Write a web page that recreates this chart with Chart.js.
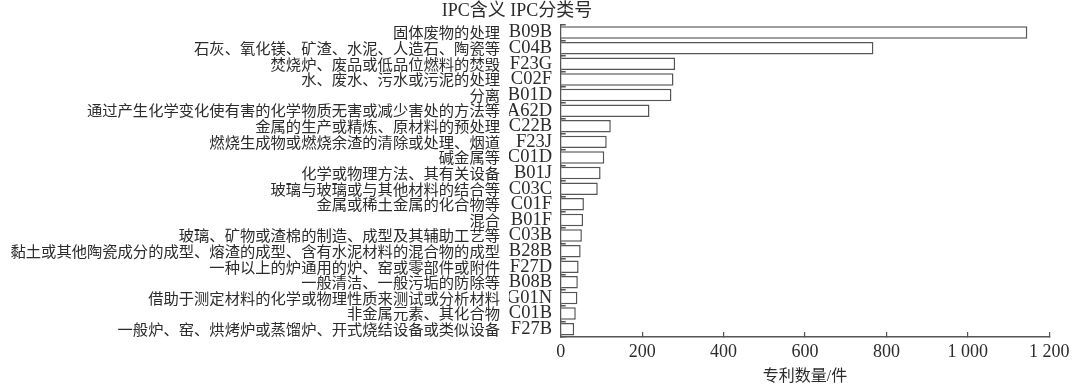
<!DOCTYPE html>
<html>
<head>
<meta charset="utf-8">
<script src="https://cdn.jsdelivr.net/npm/chart.js@4.4.1/dist/chart.umd.min.js"></script>
<style>
  html, body { margin: 0; padding: 0; background: #fff; }
  #wrap { width: 1080px; height: 389px; position: relative; }
</style>
</head>
<body>
<div id="wrap"><canvas id="c"></canvas></div>
<script>
const ipcCodes = ['B09B','C04B','F23G','C02F','B01D','A62D','C22B','F23J','C01D','B01J','C03C','C01F','B01F','C03B','B28B','F27D','B08B','G01N','C01B','F27B'];
const ipcMeanings = [
  '固体废物的处理',
  '石灰、氧化镁、矿渣、水泥、人造石、陶瓷等',
  '焚烧炉、废品或低品位燃料的焚毁',
  '水、废水、污水或污泥的处理',
  '分离',
  '通过产生化学变化使有害的化学物质无害或减少害处的方法等',
  '金属的生产或精炼、原材料的预处理',
  '燃烧生成物或燃烧余渣的清除或处理、烟道',
  '碱金属等',
  '化学或物理方法、其有关设备',
  '玻璃与玻璃或与其他材料的结合等',
  '金属或稀土金属的化合物等',
  '混合',
  '玻璃、矿物或渣棉的制造、成型及其辅助工艺等',
  '黏土或其他陶瓷成分的成型、熔渣的成型、含有水泥材料的混合物的成型',
  '一种以上的炉通用的炉、窑或零部件或附件',
  '一般清洁、一般污垢的防除等',
  '借助于测定材料的化学或物理性质来测试或分析材料',
  '非金属元素、其化合物',
  '一般炉、窑、烘烤炉或蒸馏炉、开式烧结设备或类似设备'
];
const patentCounts = [1146,768,281,277,272,218,123,113,107,98,91,57,55,52,49,44,42,41,37,33];
const xTickValues = [0,200,400,600,800,1000,1200];
const headerText = 'IPC含义 IPC分类号';
const xAxisTitle = '专利数量/件';

const SERIF = "'Liberation Serif', 'Noto Sans CJK SC', serif";
const CJK = "'Noto Sans CJK SC', sans-serif";
const TEXT = '#2b2b2b';
const AXIS = '#555';

const headerPlugin = {
  id: 'header',
  afterDraw(chart) {
    const ctx = chart.ctx;
    ctx.save();
    ctx.font = "18px " + SERIF;
    ctx.fillStyle = TEXT;
    ctx.textAlign = 'right';
    ctx.textBaseline = 'middle';
    ctx.fillText(headerText, chart.chartArea.left + 31.5, 11);
    ctx.restore();
  }
};

new Chart(document.getElementById('c'), {
  type: 'bar',
  data: {
    labels: ipcCodes,
    datasets: [{
      data: patentCounts,
      backgroundColor: '#ffffff',
      borderColor: AXIS,
      borderWidth: 1.5,
      barPercentage: 0.8,
      categoryPercentage: 1.0,
      yAxisID: 'y'
    }]
  },
  options: {
    indexAxis: 'y',
    responsive: true,
    maintainAspectRatio: false,
    animation: false,
    layout: { padding: { left: 0, right: 30.7, top: 22, bottom: 0 } },
    plugins: { legend: { display: false }, tooltip: { enabled: false } },
    scales: {
      x: {
        type: 'linear',
        min: 0, max: 1200,
        afterBuildTicks: (s) => { s.ticks = xTickValues.map(v => ({ value: v })); },
        afterFit: (s) => { s.height = 52; },
        ticks: {
          color: TEXT,
          font: { family: SERIF, size: 18 },
          padding: 9.2,
          maxRotation: 0,
          callback: (v) => String(v).replace(/\B(?=(\d{3})+$)/g, ' ')
        },
        grid: { drawOnChartArea: false, drawTicks: true, tickLength: -5, color: AXIS, lineWidth: 1.2 },
        border: { display: true, color: AXIS, width: 1.5 },
        title: { display: true, text: xAxisTitle, color: TEXT, font: { family: SERIF, size: 16 }, padding: { top: 0, bottom: 2.4 } }
      },
      y: {
        type: 'category',
        position: 'left',
        weight: 0,
        offset: true,
        afterFit: (s) => { s.width = 51.7; },
        ticks: { color: TEXT, font: { family: SERIF, size: 18.5 }, padding: 13.7, autoSkip: false },
        grid: { offset: true, drawOnChartArea: false, drawTicks: true, tickLength: -5, color: AXIS, lineWidth: 1.5 },
        border: { display: true, color: AXIS, width: 1.5 }
      },
      y2: {
        type: 'category',
        axis: 'y',
        position: 'left',
        weight: 1,
        offset: true,
        labels: ipcMeanings,
        afterFit: (s) => { s.width = 509; },
        ticks: { color: TEXT, font: { family: CJK, size: 15.3 }, padding: 9, autoSkip: false },
        grid: { display: false, drawTicks: false, offset: true },
        border: { display: false }
      }
    }
  },
  plugins: [headerPlugin]
});
</script>
</body>
</html>
